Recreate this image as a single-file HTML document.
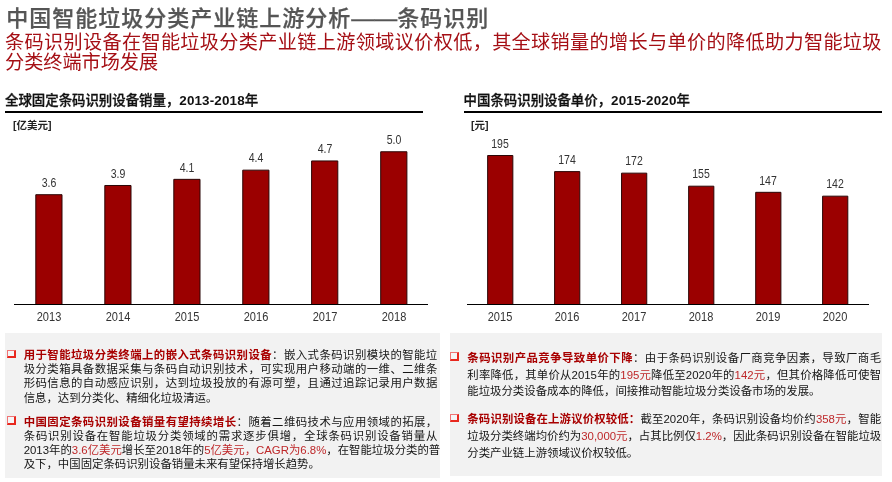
<!DOCTYPE html>
<html lang="zh-CN">
<head>
<meta charset="utf-8">
<title>中国智能垃圾分类产业链上游分析——条码识别</title>
<style>
*{margin:0;padding:0;box-sizing:border-box}
html,body{width:892px;height:482px;background:#fff;overflow:hidden}
body{position:relative;font-family:"Liberation Sans","Noto Sans CJK SC",sans-serif;color:#222}
.abs{position:absolute;white-space:nowrap}
#title{left:6.3px;top:1.5px;font-size:22px;line-height:32px;color:#555;font-weight:500;letter-spacing:1px;-webkit-text-stroke:0.25px #555}
#sub span{display:block;white-space:nowrap}
#sub .j{text-align:justify;text-align-last:justify}
#sub .n{text-align:left}
#title .ds{letter-spacing:0;font-size:23px;vertical-align:0}
#sub{left:5px;top:33.4px;width:876.5px;font-size:19.15px;line-height:20px;color:#a50f15;white-space:normal;position:absolute;text-align:justify}
.ct{font-size:13.42px;font-weight:500;-webkit-text-stroke:0.3px #111;color:#111;line-height:18px}
.ct i{font-style:normal;font-weight:bold;letter-spacing:0.15px;-webkit-text-stroke:0}
.rule{position:absolute;height:2px;background:#000}
.unit{font-size:10.5px;font-weight:bold;color:#222;line-height:14px}
.axis{position:absolute;height:1px;background:#000}
.val,.yr{position:absolute;text-align:center;color:#333;white-space:nowrap}
.val{font-size:12.6px;line-height:12px;width:40px;transform:scaleX(0.835);margin-top:0.3px}
.yr{font-size:12.7px;line-height:13px;width:50px;transform:scaleX(0.87);margin-top:0.7px}
.box{position:absolute;background:#f2f2f2}
.p{position:absolute;font-size:11.4px;color:#151515}
.p .l{display:block;white-space:nowrap;text-align:justify;text-align-last:justify}
.p .l.last{text-align-last:left;text-align:left}
.p b{color:#a80000;font-weight:bold}
.p em{font-style:normal;color:#be282a}
.bl{position:absolute;width:9px;height:8.8px;border-style:solid;border-color:#f07474 #e8281e #e8281e #f07474;border-width:1px 2px 2px 1px;background:#f5f5f7;border-radius:0.5px}
</style>
</head>
<body>
<div id="title" class="abs">中国智能垃圾分类产业链上游分析<span class="ds">——</span>条码识别</div>
<div id="sub"><span class="j">条码识别设备在智能垃圾分类产业链上游领域议价权低，其全球销量的增长与单价的降低助力智能垃圾</span><span class="n">分类终端市场发展</span></div>

<div class="abs ct" style="left:5px;top:91.6px">全球固定条码识别设备销量，<i>2013-2018</i>年</div>
<div class="rule" style="left:5px;top:111px;width:418px"></div>
<div class="abs unit" style="left:13px;top:118px">[亿美元]</div>

<div class="abs ct" style="left:463.6px;top:91.6px">中国条码识别设备单价，<i>2015-2020</i>年</div>
<div class="rule" style="left:464px;top:111px;width:418px"></div>
<div class="abs unit" style="left:471px;top:118px">[元]</div>


<div class="box" style="left:5px;top:333px;width:435px;height:145px"></div>
<div class="box" style="left:450px;top:333px;width:432px;height:143px"></div>

<div class="bl" style="left:6.8px;top:349.5px"></div>
<div class="p" style="left:23.7px;top:347.9px;width:413.6px;line-height:14.2px">
<span class="l"><b>用于智能垃圾分类终端上的嵌入式条码识别设备</b>：嵌入式条码识别模块的智能垃</span>
<span class="l">圾分类箱具备数据采集与条码自动识别技术，可实现用户移动端的一维、二维条</span>
<span class="l">形码信息的自动感应识别，达到垃圾投放的有源可塑，且通过追踪记录用户数据</span>
<span class="l last">信息，达到分类化、精细化垃圾清运。</span>
</div>
<div class="bl" style="left:6.8px;top:416.3px"></div>
<div class="p" style="left:23.7px;top:414.7px;width:413.6px;line-height:14.15px">
<span class="l"><b>中国固定条码识别设备销量有望持续增长</b>：随着二维码技术与应用领域的拓展，</span>
<span class="l">条码识别设备在智能垃圾分类领域的需求逐步俱增，全球条码识别设备销量从</span>
<span class="l">2013年的<em>3.6亿美元</em>增长至2018年的<em>5亿美元，CAGR为6.8%</em>，在智能垃圾分类的普</span>
<span class="l last">及下，中国固定条码识别设备销量未来有望保持增长趋势。</span>
</div>
<div class="bl" style="left:450px;top:352.2px"></div>
<div class="p" style="left:467.3px;top:350.3px;width:413.8px;line-height:16.4px">
<span class="l"><b>条码识别产品竞争导致单价下降</b>：由于条码识别设备厂商竞争因素，导致厂商毛</span>
<span class="l">利率降低，其单价从2015年的<em>195元</em>降低至2020年的<em>142元</em>，但其价格降低可使智</span>
<span class="l last">能垃圾分类设备成本的降低，间接推动智能垃圾分类设备市场的发展。</span>
</div>
<div class="bl" style="left:450px;top:413.6px"></div>
<div class="p" style="left:467.3px;top:411.3px;width:413.8px;line-height:17px">
<span class="l"><b>条码识别设备在上游议价权较低：</b>截至2020年，条码识别设备均价约<em>358元</em>，智能</span>
<span class="l">垃圾分类终端均价约为<em>30,000元</em>，占其比例仅<em>1.2%</em>，因此条码识别设备在智能垃圾</span>
<span class="l last">分类产业链上游领域议价权较低。</span>
</div>

<div id="charts">
<svg class="abs" style="left:0;top:0" width="892" height="482" viewBox="0 0 892 482" fill="#9b0000" stroke="#2b0606" stroke-width="1">
<path d="M35.80,304.5 V194.69 H62.00 V304.5 Z"/>
<path d="M104.80,304.5 V185.49 H131.00 V304.5 Z"/>
<path d="M173.80,304.5 V179.35 H200.00 V304.5 Z"/>
<path d="M242.75,304.5 V170.15 H268.95 V304.5 Z"/>
<path d="M311.60,304.5 V160.95 H337.80 V304.5 Z"/>
<path d="M380.70,304.5 V151.75 H406.90 V304.5 Z"/>
<path d="M487.65,304.5 V155.50 H512.85 V304.5 Z"/>
<path d="M554.60,304.5 V171.61 H579.80 V304.5 Z"/>
<path d="M621.55,304.5 V173.15 H646.75 V304.5 Z"/>
<path d="M688.65,304.5 V186.19 H713.85 V304.5 Z"/>
<path d="M755.70,304.5 V192.32 H780.90 V304.5 Z"/>
<path d="M822.60,304.5 V196.16 H847.80 V304.5 Z"/>
</svg>
<div class="val" style="left:28.95px;top:176.69px">3.6</div>
<div class="yr" style="left:23.95px;top:310px">2013</div>
<div class="val" style="left:97.95px;top:167.49px">3.9</div>
<div class="yr" style="left:92.95px;top:310px">2014</div>
<div class="val" style="left:166.95px;top:161.35px">4.1</div>
<div class="yr" style="left:161.95px;top:310px">2015</div>
<div class="val" style="left:235.90px;top:152.15px">4.4</div>
<div class="yr" style="left:230.90px;top:310px">2016</div>
<div class="val" style="left:304.85px;top:142.95px">4.7</div>
<div class="yr" style="left:299.85px;top:310px">2017</div>
<div class="val" style="left:373.65px;top:133.75px">5.0</div>
<div class="yr" style="left:368.65px;top:310px">2018</div>
<div class="val" style="left:480.35px;top:137.50px">195</div>
<div class="yr" style="left:475.35px;top:310px">2015</div>
<div class="val" style="left:547.30px;top:153.61px">174</div>
<div class="yr" style="left:542.30px;top:310px">2016</div>
<div class="val" style="left:614.20px;top:155.15px">172</div>
<div class="yr" style="left:609.20px;top:310px">2017</div>
<div class="val" style="left:681.20px;top:168.19px">155</div>
<div class="yr" style="left:676.20px;top:310px">2018</div>
<div class="val" style="left:748.20px;top:174.32px">147</div>
<div class="yr" style="left:743.20px;top:310px">2019</div>
<div class="val" style="left:815.10px;top:178.16px">142</div>
<div class="yr" style="left:810.10px;top:310px">2020</div>
<div class="axis" style="left:14px;top:304px;width:414px"></div>
<div class="axis" style="left:467px;top:304px;width:402px"></div>
</div>
</body>
</html>
